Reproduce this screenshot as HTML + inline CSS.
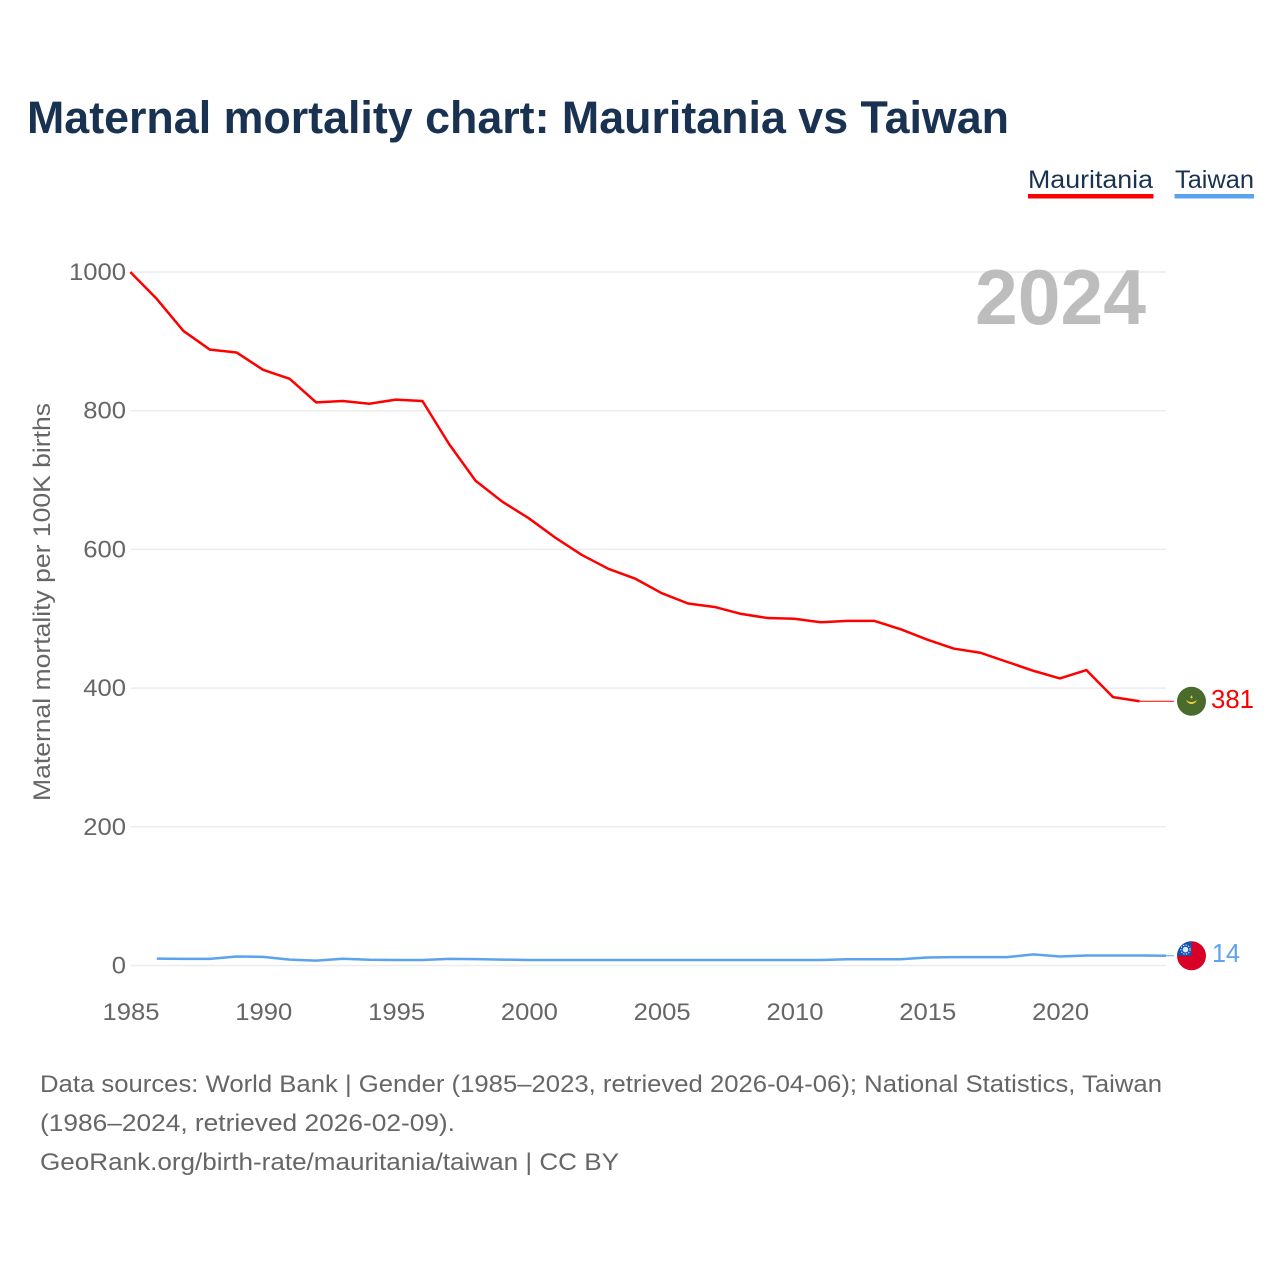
<!DOCTYPE html>
<html lang="en">
<head>
<meta charset="utf-8">
<title>Maternal mortality chart: Mauritania vs Taiwan</title>
<style>
html,body{margin:0;padding:0;background:#fff;width:1280px;height:1280px;overflow:hidden}
svg{display:block}
text{font-family:"Liberation Sans",sans-serif}
.tick{font-size:24px;fill:#666}
.foot{font-size:24px;fill:#666}
</style>
</head>
<body>
<svg id="chart" width="1280" height="1280" viewBox="0 0 1280 1280" xmlns="http://www.w3.org/2000/svg">
  <text x="27" y="133" font-size="45" font-weight="700" fill="#1a3252" textLength="982" lengthAdjust="spacingAndGlyphs">Maternal mortality chart: Mauritania vs Taiwan</text>

  <g>
    <g>
      <text x="1028" y="188" font-size="25" fill="#1a3252" textLength="125" lengthAdjust="spacingAndGlyphs">Mauritania</text>
      <rect x="1028" y="194" width="125.500" height="4.500" fill="#ff0000"/>
    </g>
    <g>
      <text x="1175" y="188" font-size="25" fill="#1a3252" textLength="79" lengthAdjust="spacingAndGlyphs">Taiwan</text>
      <rect x="1174.500" y="194" width="79.500" height="4.500" fill="#5ba3ee"/>
    </g>
  </g>

  <g id="grid"></g>
  <g id="yticks"></g>
  <g id="xticks"></g>

  <text transform="translate(50,801) rotate(-90)" font-size="24" fill="#666" textLength="398" lengthAdjust="spacingAndGlyphs">Maternal mortality per 100K births</text>

  <text x="975" y="324" font-size="78" font-weight="700" fill="#bdbdbd" textLength="171" lengthAdjust="spacingAndGlyphs">2024</text>

  <g id="series"></g>

  <g id="flag-mauritania">
    <circle cx="0" cy="0" r="14.500" fill="#4b6b2c"/>
    <path d="M-5.500 -1.500 A5.800 6.300 0 0 0 5.500 -1.500 A6.500 4.800 0 0 1 -5.500 -1.500Z" fill="#ecd03c"/>
    <path d="M0 -6 L1.300 -3.800 L0 -2.600 L-1.300 -3.800Z" fill="#ecd03c"/>
  </g>

  <g id="flag-taiwan">
    <clipPath id="taiwan-clip"><circle cx="0" cy="0" r="14.500"/></clipPath>
    <g clip-path="url(#taiwan-clip)">
      <rect x="-15" y="-15" width="30" height="30" fill="#d80027"/>
      <rect x="-15" y="-15" width="15" height="15" fill="#0f56b3"/>
      <circle cx="-6" cy="-6.200" r="2.800" fill="#dfe9f5"/>
      <circle cx="-6" cy="-6.200" r="4.600" fill="none" stroke="#fff" stroke-width="0.900" stroke-dasharray="1.400 1.300"/>
    </g>
  </g>

  <text id="label-mauritania" font-size="26" fill="#ff0000"></text>
  <text id="label-taiwan" font-size="26" fill="#5ba3ee"></text>

  <g>
    <text class="foot" x="40" y="1092" textLength="1122" lengthAdjust="spacingAndGlyphs">Data sources: World Bank | Gender (1985–2023, retrieved 2026-04-06); National Statistics, Taiwan</text>
    <text class="foot" x="40" y="1131" textLength="415" lengthAdjust="spacingAndGlyphs">(1986–2024, retrieved 2026-02-09).</text>
    <text class="foot" x="40" y="1170" textLength="579" lengthAdjust="spacingAndGlyphs">GeoRank.org/birth-rate/mauritania/taiwan | CC BY</text>
  </g>
</svg>

<script>
const yTickValues = [0, 200, 400, 600, 800, 1000];
const xTickYears = [1985, 1990, 1995, 2000, 2005, 2010, 2015, 2020];
const mauritaniaYears = [1985,1986,1987,1988,1989,1990,1991,1992,1993,1994,1995,1996,1997,1998,1999,2000,2001,2002,2003,2004,2005,2006,2007,2008,2009,2010,2011,2012,2013,2014,2015,2016,2017,2018,2019,2020,2021,2022,2023];
const mauritaniaValues = [1000,961,915,888,884,859,846,812,814,810,816,814,752,699,669,645,617,592,572,558,537,522,517,507,501,500,495,497,497,485,470,457,451,438,425,414,426,387,381];
const taiwanYears = [1986,1987,1988,1989,1990,1991,1992,1993,1994,1995,1996,1997,1998,1999,2000,2001,2002,2003,2004,2005,2006,2007,2008,2009,2010,2011,2012,2013,2014,2015,2016,2017,2018,2019,2020,2021,2022,2023,2024];
const taiwanValues = [10,9.5,9.5,13,12.5,8.5,7,9.7,8.3,8,8,9.5,9.2,8.5,8,8,8,8,8,8,8,8,8,8,8,8,9,9,9,11.5,12,12,12,16,13,14.5,14.5,14.5,14];

const SVG_NS = 'http://www.w3.org/2000/svg';
const plotLeft = 131, plotRight = 1166;
const xScale = year => 130.3 + (year - 1985) * 26.56;
const yScale = value => 965.5 - value * 0.6935;

function make(tag, attrs) {
  const el = document.createElementNS(SVG_NS, tag);
  for (const k in attrs) el.setAttribute(k, attrs[k]);
  return el;
}

const grid = document.getElementById('grid');
const yticks = document.getElementById('yticks');
yTickValues.forEach(v => {
  const line = make('line', {x1: plotLeft, x2: plotRight, y1: yScale(v), y2: yScale(v), stroke: '#ececec', 'stroke-width': 1.5});
  
  
  grid.appendChild(line);
  const label = make('text', {x: 126, y: yScale(v) + 8, 'text-anchor': 'end', class: 'tick', textLength: String(v).length * 14.25, lengthAdjust: 'spacingAndGlyphs'});
  
  
  label.textContent = v;
  yticks.appendChild(label);
});

const xticks = document.getElementById('xticks');
xTickYears.forEach(y => {
  const label = make('text', {x: xScale(y) + 0.7, y: 1020, 'text-anchor': 'middle', class: 'tick', textLength: 57, lengthAdjust: 'spacingAndGlyphs'});
  
  
  label.textContent = y;
  xticks.appendChild(label);
});

function pathFor(years, values) {
  return values.map((v, i) => (i ? 'L' : 'M') + xScale(years[i]).toFixed(2) + ' ' + yScale(v).toFixed(2)).join(' ');
}

const series = document.getElementById('series');

const taiwanLine = make('path', {d: pathFor(taiwanYears, taiwanValues), fill: 'none', stroke: '#5ba3ee', 'stroke-width': 2.5, 'stroke-linejoin': 'round'});


series.appendChild(taiwanLine);

const mauritaniaLine = make('path', {d: pathFor(mauritaniaYears, mauritaniaValues), fill: 'none', stroke: '#ff0000', 'stroke-width': 2.5, 'stroke-linejoin': 'round'});


series.appendChild(mauritaniaLine);

const lastM = mauritaniaValues[mauritaniaValues.length - 1];
const lastMYear = mauritaniaYears[mauritaniaYears.length - 1];
const lastT = taiwanValues[taiwanValues.length - 1];
const lastTYear = taiwanYears[taiwanYears.length - 1];

const leaderM = make('line', {x1: xScale(lastMYear), x2: 1174, y1: yScale(lastM), y2: yScale(lastM), stroke: '#ff0000', 'stroke-width': 1});


series.appendChild(leaderM);

const leaderT = make('line', {x1: xScale(lastTYear), x2: 1174, y1: yScale(lastT), y2: yScale(lastT), stroke: '#5ba3ee', 'stroke-width': 1});


series.appendChild(leaderT);

document.getElementById('flag-mauritania').setAttribute('transform', 'translate(1191.5,' + yScale(lastM) + ')');
document.getElementById('flag-taiwan').setAttribute('transform', 'translate(1191.5,' + yScale(lastT) + ')');

const labelM = document.getElementById('label-mauritania');
labelM.setAttribute('x', 1211);
labelM.setAttribute('y', yScale(lastM) + 6.5);
labelM.setAttribute('textLength', 43);
labelM.setAttribute('lengthAdjust', 'spacingAndGlyphs');
labelM.textContent = lastM;

const labelT = document.getElementById('label-taiwan');
labelT.setAttribute('x', 1212);
labelT.setAttribute('y', yScale(lastT) + 6);
labelT.setAttribute('textLength', 28);
labelT.setAttribute('lengthAdjust', 'spacingAndGlyphs');
labelT.textContent = lastT;
</script>
</body>
</html>
